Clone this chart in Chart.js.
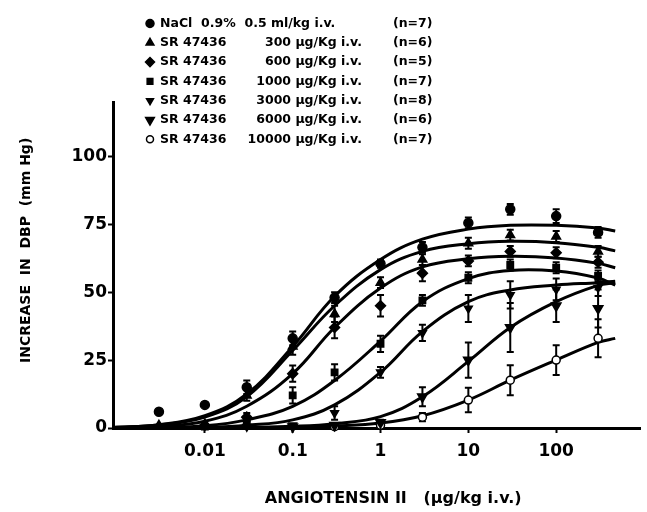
<!DOCTYPE html>
<html>
<head>
<meta charset="utf-8">
<script src="https://cdn.jsdelivr.net/npm/chart.js@4.4.1/dist/chart.umd.min.js"></script>
<style>
html, body { margin: 0; padding: 0; background: #fff; }
canvas { display: block; }
</style>
</head>
<body>
<canvas id="doseChart" width="647" height="512"></canvas>
<script>
// angiotensin II doses (µg/kg i.v.) where means were measured
const doses = [0.003, 0.01, 0.03, 0.1, 0.3, 1, 3, 10, 30, 100, 300];
const curveDoses = [0.0009, 0.003, 0.01, 0.03, 0.1, 0.3, 1, 3, 10, 30, 100, 300, 470];

const xTickValues = [0.01, 0.1, 1, 10, 100];
const xTickLabels = ['0.01', '0.1', '1', '10', '100'];
const yTickValues = [0, 25, 50, 75, 100];

// legend texts
const groupNames = ['NaCl  0.9%  0.5 ml/kg i.v.', 'SR 47436', 'SR 47436', 'SR 47436', 'SR 47436', 'SR 47436', 'SR 47436'];
const groupDoses = ['', '300 µg/Kg i.v.', '600 µg/Kg i.v.', '1000 µg/Kg i.v.', '3000 µg/Kg i.v.', '6000 µg/Kg i.v.', '10000 µg/Kg i.v.'];
const groupN = ['(n=7)', '(n=6)', '(n=5)', '(n=7)', '(n=8)', '(n=6)', '(n=7)'];

// mean increase in DBP (mm Hg), null = not tested
const meanNaCl  = [6, 8.5, 15, 33, 48, 60.5, 66.5, 75.5, 80.5, 78, 72];
const mean300   = [1, 1.5, 12, 30, 42, 53.5, 62, 68, 71, 70.5, 65];
const mean600   = [null, 1, 4, 20, 37, 45, 57, 61.5, 65, 64.5, 61];
const mean1000  = [null, 0.5, 1.5, 12, 20.5, 31, 47, 55.3, 60, 59, 56];
const mean3000  = [null, null, 0.5, 1, 5.5, 20.5, 35, 44, 49, 51, 51.6];
const mean6000  = [null, null, null, 0.5, 1, 2, 11.5, 25, 37, 45, 44];
const mean10000 = [null, null, null, null, 0.5, 1, 4, 10.3, 17.6, 25, 33];

// S.E.M.
const errNaCl  = [0, 0, 2.5, 2.5, 2, 1.5, 2, 2, 2, 2.5, 2];
const err300   = [0, 0, 2, 3, 3, 2, 2, 2, 2, 2, 2];
const err600   = [0, 0, 1.5, 3, 4, 4, 3, 2, 2, 2, 2];
const err1000  = [0, 0, 1, 3, 3, 3, 2, 2, 2, 2, 2];
const err3000  = [0, 0, 0, 0, 2.5, 2, 3, 5, 5, 4, 3];
const err6000  = [0, 0, 0, 0, 0, 1, 3.5, 6.5, 9, 6, 7];
const err10000 = [0, 0, 0, 0, 0, 0, 1.5, 4.5, 5.5, 5.5, 7];

// fitted curves, read at curveDoses
const curveNaCl  = [0.2, 1.2, 4.5, 12.5, 30, 48.5, 62, 69.5, 73.2, 74.6, 74.6, 73.6, 72.5];
const curve300   = [0.2, 1.1, 4, 11.5, 28.5, 45, 58.3, 65, 67.8, 68.7, 68.2, 66.5, 65.2];
const curve600   = [0.1, 0.6, 2.5, 8, 20, 37, 51.5, 59.3, 62.3, 63.2, 62.6, 60.6, 59];
const curve1000  = [0, 0.2, 0.8, 3, 8, 17.5, 32, 46.5, 55, 58, 57.8, 55.2, 52.6];
const curve3000  = [0, 0, 0.2, 1, 3, 8.5, 20.5, 35.5, 46.5, 50.8, 52.6, 53.5, 54];
const curve6000  = [0, 0, 0, 0.2, 0.6, 1.6, 4.2, 11.5, 24.5, 37, 46.5, 52.5, 53.5];
const curve10000 = [0, 0, 0, 0, 0.2, 0.7, 1.8, 4.5, 10.3, 17.6, 25, 31.5, 33];

const means = [meanNaCl, mean300, mean600, mean1000, mean3000, mean6000, mean10000];
const errors = [errNaCl, err300, err600, err1000, err3000, err6000, err10000];
const curves = [curveNaCl, curve300, curve600, curve1000, curve3000, curve6000, curve10000];

// marker looks for each group
const markerStyles = [
    { pointStyle: 'circle', rotation: 0, radius: 4.5, fill: '#000' },
    { pointStyle: 'triangle', rotation: 0, radius: 5, fill: '#000' },
    { pointStyle: 'rectRot', rotation: 0, radius: 5, fill: '#000' },
    { pointStyle: 'rect', rotation: 0, radius: 4.5, fill: '#000' },
    { pointStyle: 'triangle', rotation: 180, radius: 4.5, fill: '#000' },
    { pointStyle: 'triangle', rotation: 180, radius: 5.5, fill: '#000' },
    { pointStyle: 'circle', rotation: 0, radius: 4, fill: '#fff' }
];

const boldFont = 'DejaVu Sans';

// vertical S.E.M. bars under the markers
const errorBars = {
    id: 'errorBars',
    beforeDatasetsDraw(chart) {
        const { ctx, scales: { x, y } } = chart;
        ctx.save();
        ctx.strokeStyle = '#000';
        ctx.lineWidth = 2;
        chart.data.datasets.forEach(ds => {
            if (!ds.withErrors) return;
            ds.data.forEach(p => {
                if (!p.err) return;
                const px = x.getPixelForValue(p.x);
                const top = y.getPixelForValue(p.y + p.err);
                const bottom = y.getPixelForValue(p.y - p.err);
                ctx.beginPath();
                ctx.moveTo(px, top);
                ctx.lineTo(px, bottom);
                ctx.moveTo(px - 3.5, top);
                ctx.lineTo(px + 3.5, top);
                ctx.moveTo(px - 3.5, bottom);
                ctx.lineTo(px + 3.5, bottom);
                ctx.stroke();
            });
        });
        ctx.restore();
    }
};

// legend block at the top left, above the plot
const legendBlock = {
    id: 'legendBlock',
    afterDraw(chart) {
        const ctx = chart.ctx;
        ctx.save();
        ctx.font = `bold 12.5px "${boldFont}"`;
        ctx.textBaseline = 'middle';
        groupNames.forEach((name, i) => {
            const y = 23.5 + i * 19.3;
            const m = markerStyles[i];
            ctx.fillStyle = m.fill;
            ctx.strokeStyle = '#000';
            ctx.lineWidth = 1.5;
            Chart.helpers.drawPoint(ctx, { pointStyle: m.pointStyle, rotation: m.rotation, radius: m.radius - 0.5, borderWidth: 1.5 }, 150, y);
            ctx.fillStyle = '#000';
            ctx.textAlign = 'left';
            ctx.fillText(name, 160, y);
            ctx.textAlign = 'right';
            ctx.fillText(groupDoses[i], 362, y);
            ctx.textAlign = 'left';
            ctx.fillText(groupN[i], 393, y);
        });
        ctx.restore();
    }
};

function buildDatasets() {
    const pointSets = means.map((vals, g) => {
        const m = markerStyles[g];
        const data = [];
        vals.forEach((v, i) => {
            if (v !== null) data.push({ x: doses[i], y: v, err: errors[g][i] });
        });
        return {
            type: 'scatter',
            data: data,
            withErrors: true,
            pointStyle: m.pointStyle,
            rotation: m.rotation,
            pointRadius: m.radius,
            backgroundColor: m.fill,
            borderColor: '#000',
            borderWidth: 1.5,
            clip: false,
            order: 0
        };
    });
    const curveSets = curves.map(vals => ({
        type: 'line',
        data: curveDoses.map((d, i) => ({ x: d, y: vals[i] })),
        borderColor: '#000',
        borderWidth: 3,
        pointRadius: 0,
        fill: false,
        tension: 0.4,
        clip: 3,
        order: 1
    }));
    return pointSets.concat(curveSets);
}

function createChart() {
    const ctx = document.getElementById('doseChart').getContext('2d');
    const tickFont = { family: boldFont, weight: 'bold', size: 17 };

    return new Chart(ctx, {
        data: { datasets: buildDatasets() },
        options: {
            responsive: false,
            animation: false,
            events: [],
            layout: { padding: { left: 0, right: 0, top: 102, bottom: 0 } },
            plugins: {
                legend: { display: false },
                tooltip: { enabled: false }
            },
            scales: {
                x: {
                    type: 'logarithmic',
                    min: 0.0009,
                    max: 900,
                    afterBuildTicks: s => { s.ticks = xTickValues.map(v => ({ value: v })); },
                    afterFit: s => { s.height = 84; },
                    border: { color: '#000', width: 3 },
                    grid: { drawOnChartArea: false, drawTicks: true, tickLength: 5, tickWidth: 2, color: '#000' },
                    ticks: {
                        color: '#000',
                        font: tickFont,
                        padding: 8,
                        maxRotation: 0,
                        autoSkip: false,
                        callback: v => xTickLabels[xTickValues.indexOf(v)]
                    },
                    title: {
                        display: true,
                        text: '      ANGIOTENSIN II   (µg/kg i.v.)',
                        color: '#000',
                        font: { family: boldFont, weight: 'bold', size: 16 },
                        padding: { top: 0, bottom: 4 }
                    }
                },
                y: {
                    type: 'linear',
                    min: 0,
                    max: 120,
                    afterBuildTicks: s => { s.ticks = yTickValues.map(v => ({ value: v })); },
                    afterFit: s => { s.width = 113; },
                    border: { color: '#000', width: 3 },
                    grid: { drawOnChartArea: false, drawTicks: true, tickLength: 5, tickWidth: 2, color: '#000' },
                    ticks: { color: '#000', font: tickFont, padding: 1 },
                    title: {
                        display: true,
                        text: '      INCREASE  IN  DBP  (mm Hg)',
                        color: '#000',
                        font: { family: boldFont, weight: 'bold', size: 14 },
                        padding: { top: 18, bottom: 0 }
                    }
                }
            }
        },
        plugins: [errorBars, legendBlock]
    });
}

createChart();
</script>
</body>
</html>
